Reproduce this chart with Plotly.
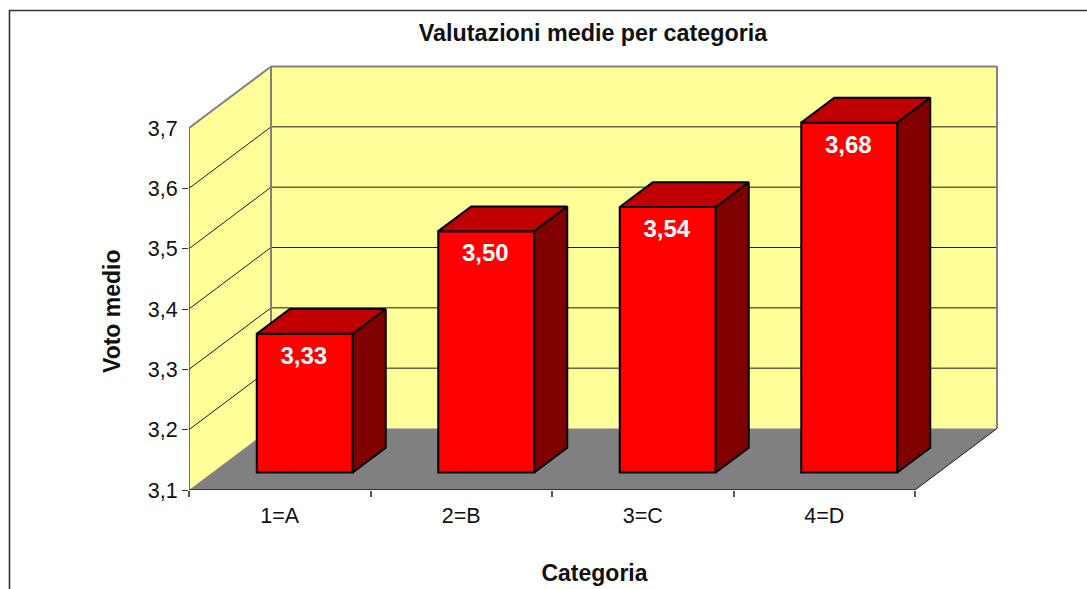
import plotly.graph_objects as go

categories = ["1=A", "2=B", "3=C", "4=D"]
values = [3.33, 3.50, 3.54, 3.68]
value_labels = ["3,33", "3,50", "3,54", "3,68"]
y_ticks = [3.1, 3.2, 3.3, 3.4, 3.5, 3.6, 3.7]
y_tick_labels = ["3,1", "3,2", "3,3", "3,4", "3,5", "3,6", "3,7"]
title_text = "Valutazioni medie per categoria"
x_title = "Categoria"
y_title = "Voto medio"

# geometry of the fake 3-D box, in axis units
PX_X, PX_Y = 181.5, 603.33
wall_dx, wall_dy = 82 / PX_X, 61.5 / PX_Y
bar_dx, bar_dy = 33 / PX_X, 24.7 / PX_Y
bar_w = 96 / PX_X
bar_shift = 25 / PX_X
base_lift = 17.5 / PX_Y
ymin, ymax = y_ticks[0], y_ticks[-1]
bar_base = ymin + base_lift
n = len(categories)

FONT = "Liberation Sans, Arial, sans-serif"
YELLOW, GRAY = "#FFFF99", "#808080"


def poly(pts, fill, line=None, width=0):
    path = "M " + " L ".join(f"{x},{y}" for x, y in pts) + " Z"
    return dict(type="path", xref="x", yref="y", path=path, fillcolor=fill, layer="below",
                line=dict(color=line or fill, width=width))


def seg(x0, y0, x1, y1, color, width):
    return dict(type="line", xref="x", yref="y", x0=x0, y0=y0, x1=x1, y1=y1, layer="below",
                line=dict(color=color, width=width))


shapes = [
    # outer frame, runs past the right and bottom of the page
    dict(type="rect", xref="paper", yref="paper", x0=(9.5 - 189) / 811, x1=1.2,
         y0=-0.5, y1=1 + (63 - 10.5) / 427, layer="below", line=dict(color="#333333", width=1.6)),
    poly([(0, ymin), (wall_dx, ymin + wall_dy), (wall_dx, ymax + wall_dy), (0, ymax)], YELLOW),
    poly([(wall_dx, ymin + wall_dy), (n + wall_dx, ymin + wall_dy), (n + wall_dx, ymax + wall_dy),
          (wall_dx, ymax + wall_dy)], YELLOW),
    poly([(0, ymin), (n, ymin), (n + wall_dx, ymin + wall_dy), (wall_dx, ymin + wall_dy)], GRAY),
]
for v in y_ticks[1:-1]:
    shapes.append(seg(0, v, wall_dx, v + wall_dy, "#1a1a1a", 1))
    shapes.append(seg(wall_dx, v + wall_dy, n + wall_dx, v + wall_dy, "#1a1a1a", 1))
shapes += [
    seg(0, ymax, wall_dx, ymax + wall_dy, GRAY, 2),
    seg(wall_dx, ymin + wall_dy, wall_dx, ymax + wall_dy, GRAY, 2),
    seg(wall_dx, ymax + wall_dy, n + wall_dx, ymax + wall_dy, GRAY, 2),
    seg(n + wall_dx, ymin + wall_dy, n + wall_dx, ymax + wall_dy, GRAY, 2),
    seg(n, ymin, n + wall_dx, ymin + wall_dy, "#1a1a1a", 1),
]

centers = [i + 0.5 + bar_shift for i in range(n)]
tops = [v + base_lift for v in values]
fig = go.Figure()

fig.add_trace(go.Bar(
    x=centers, y=[v - ymin for v in values], base=bar_base, width=bar_w,
    marker=dict(color="#FF0000", line=dict(color="black", width=2)),
    hoverinfo="skip", showlegend=False,
))

for c, t in zip(centers, tops):
    l, r = c - bar_w / 2, c + bar_w / 2
    top_x = [l, r, r + bar_dx, l + bar_dx, l]
    top_y = [t, t, t + bar_dy, t + bar_dy, t]
    side_x = [r, r + bar_dx, r + bar_dx, r, r]
    side_y = [t, t + bar_dy, bar_base + bar_dy, bar_base, t]
    for xs, ys, col in ((top_x, top_y, "#C00000"), (side_x, side_y, "#800000")):
        fig.add_trace(go.Scatter(x=xs, y=ys, mode="lines", fill="toself", fillcolor=col,
                                 line=dict(color="black", width=2), hoverinfo="skip",
                                 showlegend=False))

# front axis lines
fig.add_trace(go.Scatter(x=[0, 0], y=[ymin, ymax], mode="lines", cliponaxis=False,
                         line=dict(color="#444444", width=1.5), hoverinfo="skip", showlegend=False))
fig.add_trace(go.Scatter(x=[0, n], y=[ymin, ymin], mode="lines", cliponaxis=False,
                         line=dict(color="#1a1a1a", width=1.5), hoverinfo="skip", showlegend=False))

# value labels
fig.add_trace(go.Scatter(
    x=[c - 1 / PX_X for c in centers], y=[t - 24 / PX_Y for t in tops], text=value_labels, mode="text",
    textposition="middle center", textfont=dict(family=FONT, size=24, color="white", weight="bold"),
    hoverinfo="skip", showlegend=False,
))

fig.update_layout(
    width=1087, height=589, margin=dict(l=189, r=87, t=63, b=99),
    paper_bgcolor="white", plot_bgcolor="rgba(0,0,0,0)", showlegend=False,
    shapes=shapes, font=dict(family=FONT, color="#111111"),
    title=dict(text=f"<b>{title_text}</b>", xref="paper", x=(593 - 189) / 811, xanchor="center",
               yref="container", y=1 - 33 / 589, yanchor="middle",
               font=dict(family=FONT, size=23.3, color="#111111")),
    xaxis=dict(range=[0, 811 / PX_X], showgrid=False, zeroline=False, showline=False,
               automargin=False,
               tickmode="array", tickvals=[i + 0.5 for i in range(n)], ticktext=categories,
               ticks="outside", ticklen=6, tickcolor="rgba(0,0,0,0)",
               tickfont=dict(family=FONT, size=21.5, color="#111111"),
               minor=dict(tickmode="array", tickvals=list(range(n + 1)), ticks="outside",
                          ticklen=6, tickcolor="#555555", tickwidth=1.5),
               title=dict(text=f"<b>{x_title}</b>", standoff=38,
                          font=dict(family=FONT, size=23, color="#111111"))),
    yaxis=dict(range=[ymin, ymin + 427 / PX_Y], showgrid=False, zeroline=False, showline=False,
               automargin=False,
               tickmode="array", tickvals=y_ticks, ticktext=y_tick_labels,
               ticks="outside", ticklen=6, tickcolor="rgba(0,0,0,0)",
               tickfont=dict(family=FONT, size=21.5, color="#111111"),
               minor=dict(tickmode="array", tickvals=y_ticks[:-1], ticks="outside",
                          ticklen=6, tickcolor="#333333", tickwidth=1.2)),
    annotations=[dict(text=f"<b>{y_title}</b>", textangle=-90, xref="paper", yref="paper",
                      x=(112 - 189) / 811, y=(490 - 311) / 427, xanchor="center", yanchor="middle",
                      showarrow=False, font=dict(family=FONT, size=23, color="#111111"))],
)

fig.write_html("out.html", config=dict(displayModeBar=False),
               post_script="document.body.style.margin='0';document.body.style.overflow='hidden';")
